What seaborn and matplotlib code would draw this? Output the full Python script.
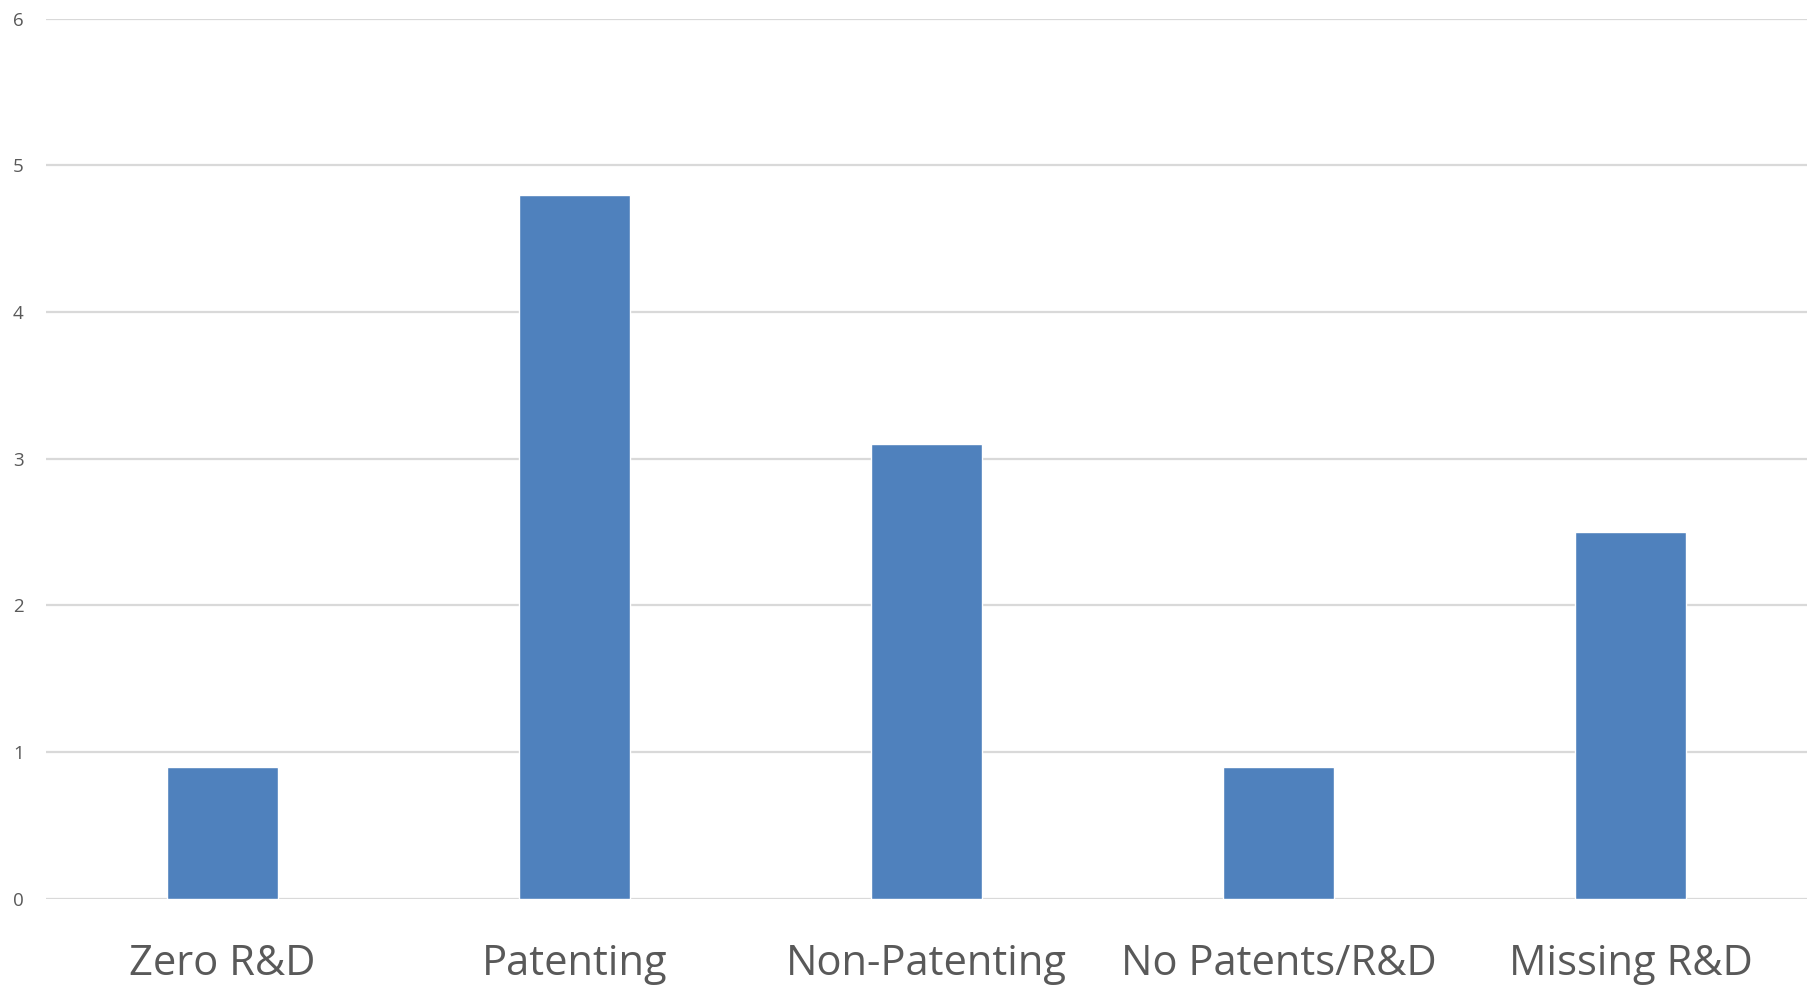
import matplotlib
matplotlib.use("Agg")
import matplotlib.pyplot as plt
import seaborn as sns
import pandas as pd

categories = ["Zero R&D", "Patenting", "Non-Patenting", "No Patents/R&D", "Missing R&D"]
values = [0.9, 4.8, 3.1, 0.9, 2.5]
y_ticks = [0, 1, 2, 3, 4, 5, 6]

sns.set_theme(style="white")
plt.rcParams['font.family'] = ['Open Sans', 'DejaVu Sans']

df = pd.DataFrame({"category": categories, "value": values})

fig = plt.figure(figsize=(18.13, 9.86), dpi=100)
ax = fig.add_axes([0.0254, 0.0887, 0.9713, 0.8925])

sns.barplot(data=df, x="category", y="value", color="#4F81BD", saturation=1,
            width=0.315, ax=ax, zorder=3)

ax.set_xlim(-0.5, len(categories) - 0.5)
ax.set_ylim(0, 6)
ax.set_yticks(y_ticks)
ax.set_yticklabels([str(t) for t in y_ticks])
ax.yaxis.grid(True, color="#d9d9d9", linewidth=1.6, zorder=0)
ax.xaxis.grid(False)
for s in ax.spines.values():
    s.set_visible(False)
ax.set_xlabel("")
ax.set_ylabel("")
ax.tick_params(axis="x", length=0, pad=32, labelsize=30, labelcolor="#595959")
ax.tick_params(axis="y", length=0, pad=16, labelsize=13.5, labelcolor="#595959")

fig.savefig("out.png", dpi=100, facecolor="white")
